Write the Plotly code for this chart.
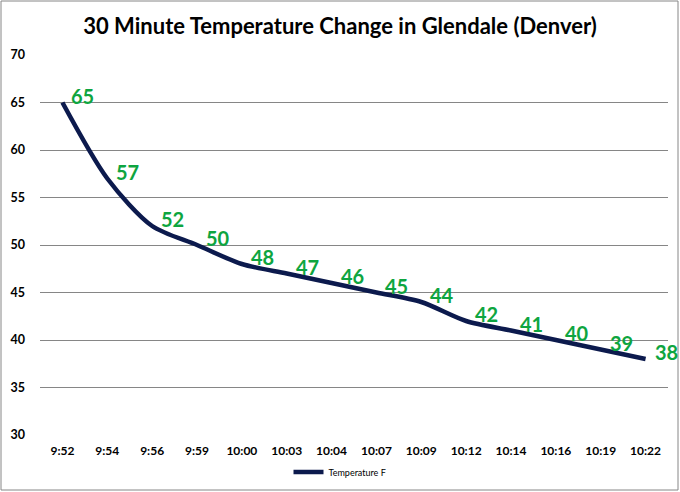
import plotly.graph_objects as go

times = ["9:52", "9:54", "9:56", "9:59", "10:00", "10:03", "10:04", "10:07",
         "10:09", "10:12", "10:14", "10:16", "10:19", "10:22"]
temps = [65, 57, 52, 50, 48, 47, 46, 45, 44, 42, 41, 40, 39, 38]
y_ticks = [30, 35, 40, 45, 50, 55, 60, 65, 70]

W, H = 680, 492
ml, mr, mt, mb = 40, 12, 55, 57
pw, ph = W - ml - mr, H - mt - mb
FONT = "Lato, Open Sans, sans-serif"

fig = go.Figure()
fig.add_trace(go.Scatter(
    x=list(range(len(times))), y=temps, mode="lines",
    name="Temperature F",
    line=dict(color="#0c1a4d", width=4.5, shape="spline", smoothing=0.8),
))

for i, v in enumerate(temps):
    fig.add_annotation(x=i, y=v, text=f"<b>{v}</b>", showarrow=False,
                       xanchor="left", yanchor="middle", xshift=7, yshift=7,
                       font=dict(family=FONT, size=20, color="#0ea540"))

fig.update_layout(
    width=W, height=H,
    margin=dict(l=ml, r=mr, t=mt, b=mb, autoexpand=False),
    paper_bgcolor="white", plot_bgcolor="white",
    title=dict(text="<b>30 Minute Temperature Change in Glendale (Denver)</b>",
               x=0.5, xanchor="center", xref="container", y=1 - 26 / H, yanchor="middle",
               font=dict(family=FONT, size=22, color="black")),
    xaxis=dict(range=[-0.5, len(times) - 0.5], tickmode="array",
               tickvals=list(range(len(times))), ticktext=[f"<b>{t}</b>" for t in times],
               showgrid=False, zeroline=False, showline=False, ticks="",
               ticklabelstandoff=7,
               tickfont=dict(family=FONT, size=12, color="black")),
    yaxis=dict(range=[30, 70], tickmode="array", tickvals=y_ticks,
               ticktext=[f"<b>{v}</b>" for v in y_ticks],
               showgrid=True, gridcolor="#868686", gridwidth=1, zeroline=False,
               showline=False, ticks="", ticklabelstandoff=14,
               tickfont=dict(family=FONT, size=12.5, color="black")),
    showlegend=True,
    legend=dict(orientation="h", x=0.5, xanchor="center", xref="container",
                y=1 - 472 / H, yref="container", yanchor="middle",
                font=dict(family=FONT, size=9, color="black"),
                itemwidth=30),
)

fig.add_shape(type="rect", xref="paper", yref="paper",
              x0=(1 - ml) / pw, x1=(678 - ml) / pw,
              y0=-(490 - mt - ph) / ph, y1=1 + (mt - 1) / ph,
              line=dict(color="#868686", width=1), layer="below")

fig.write_html("out.html", config={"displayModeBar": False},
               post_script="document.body.style.margin='0';document.body.style.overflow='hidden';")
